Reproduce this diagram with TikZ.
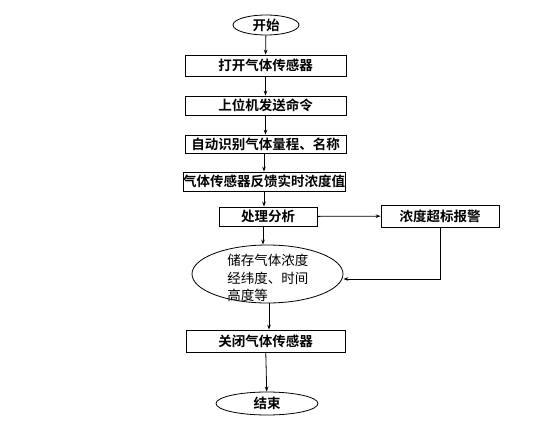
\documentclass[tikz,border=0pt]{standalone}
\usepackage{fontspec}
\setmainfont{Noto Sans CJK SC}[BoldFont={Noto Sans CJK SC Bold}]
\usetikzlibrary{
  arrows.meta,     % Stealth 箭头
  shapes.geometric % 椭圆节点
}

\begin{document}
\begin{tikzpicture}[x=1pt, y=-1pt, >={Stealth[length=5pt, width=3.6pt]},
  line width=0.8pt,
  flowbox/.style={draw, rectangle, inner sep=0pt, font=\fontsize{13.5}{15}\selectfont\bfseries},
  flowend/.style={draw, ellipse, inner sep=0pt, font=\fontsize{13.5}{15}\selectfont\bfseries}]

  % 固定画布大小
  \useasboundingbox (0,0) rectangle (539,423);

  % =============== 主流程 ===============
  \node[flowend, minimum width=66, minimum height=20] (start) at (266,25) {开始};
  \node[flowbox, minimum width=161, minimum height=21] (open) at (265.5,65.5) {打开气体传感器};
  \node[flowbox, minimum width=161, minimum height=19] (cmd) at (265.5,105.5) {上位机发送命令};
  \node[flowbox, minimum width=161, minimum height=18] (ident) at (265.5,144) {\makebox[0pt]{自动识别气体量程、名称}};
  \node[flowbox, minimum width=162, minimum height=19] (feed) at (264,181.5) {\makebox[0pt]{气体传感器反馈实时浓度值}};
  \node[flowbox, minimum width=98, minimum height=19] (proc) at (268,216.5) {处理分析};

  % 储存（椭圆，三行左对齐）
  \node[draw, ellipse, inner sep=0pt, minimum width=151, minimum height=58] (store) at (267.5,274) {};
  \node[anchor=north west, inner sep=0pt, align=left,
        font=\fontsize{13.5}{17.5}\selectfont] (storetxt) at (227,254)
        {储存气体浓度\\经纬度、时间\\高度等};

  \node[flowbox, minimum width=159, minimum height=22] (close) at (265.5,341) {关闭气体传感器};
  \node[flowend, minimum width=102, minimum height=23] (stop) at (267,403.5) {结束};

  % =============== 报警支路 ===============
  \node[flowbox, minimum width=118, minimum height=22] (alarm) at (440,216) {浓度超标报警};

  % =============== 连线 ===============
  \draw[->] (start) -- (open);
  \draw[->] (open) -- (cmd);
  \draw[->] (cmd) -- (ident);
  \draw[->] (ident.south -| feed) -- (feed);
  \draw[->] (feed.south) -- (feed.south |- proc.north);
  \draw[->] (proc.south) ++(-5,0) coordinate (ps) -- (ps |- store.north);
  \draw[->] (proc) -- (alarm);
  \draw[->] (alarm.south) |- ([yshift=-5pt]store.east);
  \draw[->] (store.south) ++(1.5,0) coordinate (ss) -- (ss |- close.north);
  \draw[->] (close) -- (stop);

\end{tikzpicture}
\end{document}
